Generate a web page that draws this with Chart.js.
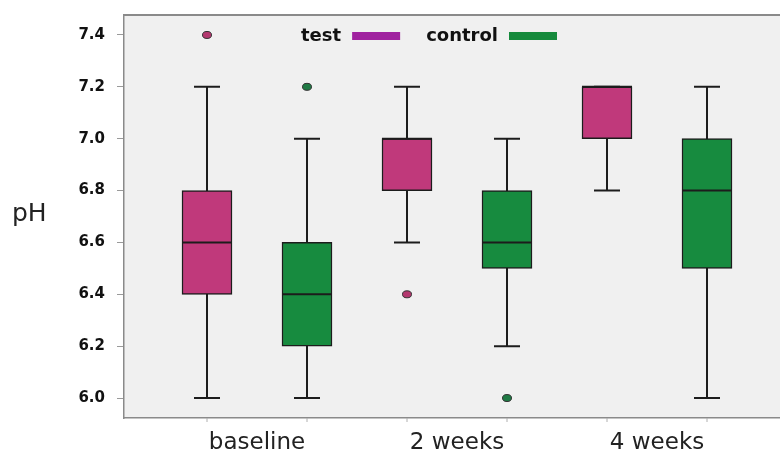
<!DOCTYPE html>
<html lang="en">
<head>
<meta charset="UTF-8">
<title>pH by time point</title>
<script src="https://cdn.jsdelivr.net/npm/chart.js"></script>
<style>body{margin:0;background:#fff}</style>
</head>
<body>
<canvas id="boxChart" width="780" height="453"></canvas>
<script>
const categories = ['baseline', '2 weeks', '4 weeks'];
const yTicks = [6.0, 6.2, 6.4, 6.6, 6.8, 7.0, 7.2, 7.4];

// five-number summaries, one entry per time point
const testMin = [6.0, 6.6, 6.8];
const testQ1 = [6.4, 6.8, 7.0];
const testMedian = [6.6, 7.0, 7.2];
const testQ3 = [6.8, 7.0, 7.2];
const testMax = [7.2, 7.2, 7.2];
const testOutliers = [[7.4], [6.4], []];

const controlMin = [6.0, 6.2, 6.0];
const controlQ1 = [6.2, 6.5, 6.5];
const controlMedian = [6.4, 6.6, 6.8];
const controlQ3 = [6.6, 6.8, 7.0];
const controlMax = [7.0, 7.0, 7.2];
const controlOutliers = [[7.2], [6.0], []];

function boxData(group, min, q1, med, q3, max, outl) {
    return categories.map((c, i) => ({
        x: i * 2 + group + 1,
        y: [q1[i], q3[i]],
        min: min[i], median: med[i], max: max[i], outliers: outl[i]
    }));
}

const lineColor = '#1c1c1c';

// whiskers under the boxes, medians/outliers on top, plus legend and bits of frame
const boxPlotPlugin = {
    id: 'boxPlot',
    beforeDraw(chart) {
        const {ctx, chartArea: a} = chart;
        ctx.save();
        ctx.fillStyle = '#f0f0f0';
        ctx.fillRect(a.left, a.top, a.right - a.left, a.bottom - a.top);
        ctx.strokeStyle = '#8a8a8a';
        ctx.lineWidth = 2;
        ctx.beginPath();
        ctx.moveTo(a.left, a.top);
        ctx.lineTo(a.right, a.top);
        ctx.stroke();
        ctx.restore();
    },
    beforeDatasetsDraw(chart) {
        const {ctx, scales: {y}} = chart;
        ctx.save();
        ctx.strokeStyle = lineColor;
        ctx.lineWidth = 2;
        chart.data.datasets.forEach((ds, d) => {
            chart.getDatasetMeta(d).data.forEach((bar, i) => {
                const item = ds.data[i];
                const yMin = y.getPixelForValue(item.min);
                const yMax = y.getPixelForValue(item.max);
                ctx.beginPath();
                ctx.moveTo(bar.x, yMin);
                ctx.lineTo(bar.x, yMax);
                ctx.moveTo(bar.x - 13, yMin);
                ctx.lineTo(bar.x + 13, yMin);
                ctx.moveTo(bar.x - 13, yMax);
                ctx.lineTo(bar.x + 13, yMax);
                ctx.stroke();
            });
        });
        ctx.restore();
    },
    afterDatasetsDraw(chart) {
        const {ctx, scales: {y}} = chart;
        ctx.save();
        chart.data.datasets.forEach((ds, d) => {
            chart.getDatasetMeta(d).data.forEach((bar, i) => {
                const item = ds.data[i];
                const ym = y.getPixelForValue(item.median);
                ctx.strokeStyle = lineColor;
                ctx.lineWidth = 2;
                ctx.beginPath();
                ctx.moveTo(bar.x - bar.width / 2, ym);
                ctx.lineTo(bar.x + bar.width / 2, ym);
                ctx.stroke();
                item.outliers.forEach(v => {
                    ctx.beginPath();
                    ctx.ellipse(bar.x, y.getPixelForValue(v), 4.5, 3.5, 0, 0, Math.PI * 2);
                    ctx.fillStyle = ds.outlierColor;
                    ctx.fill();
                    ctx.lineWidth = 1;
                    ctx.strokeStyle = '#333';
                    ctx.stroke();
                });
            });
        });
        ctx.restore();
    },
    afterDraw(chart) {
        const {ctx, chartArea: a, scales: {x}} = chart;
        ctx.save();
        // small tick marks under each box
        ctx.strokeStyle = '#b0b0b0';
        ctx.lineWidth = 1;
        chart.data.datasets.forEach((ds) => {
            ds.data.forEach(item => {
                const px = x.getPixelForValue(item.x);
                ctx.beginPath();
                ctx.moveTo(px, a.bottom);
                ctx.lineTo(px, a.bottom + 4);
                ctx.stroke();
            });
        });
        // axis title, horizontal
        ctx.fillStyle = '#222';
        ctx.font = '25px "DejaVu Sans"';
        ctx.textBaseline = 'middle';
        ctx.textAlign = 'left';
        ctx.fillText('pH', 12, (a.top + a.bottom) / 2 - 2);
        // legend: label then swatch
        ctx.font = 'bold 18px "DejaVu Sans"';
        let lx = a.left + 177;
        const ly = a.top + 21;
        chart.data.datasets.forEach(ds => {
            ctx.fillStyle = '#111';
            ctx.fillText(ds.label, lx, ly);
            lx += ctx.measureText(ds.label).width + 11;
            ctx.fillStyle = ds.legendColor;
            ctx.fillRect(lx, ly - 4, 48, 8);
            lx += 48 + 26;
        });
        ctx.restore();
    }
};

new Chart(document.getElementById('boxChart'), {
    type: 'bar',
    data: {
        datasets: [{
            label: 'test',
            data: boxData(0, testMin, testQ1, testMedian, testQ3, testMax, testOutliers),
            backgroundColor: '#c0397b',
            legendColor: '#a0229f',
            outlierColor: '#b3386f',
            borderColor: lineColor,
            borderWidth: 1.5,
            borderSkipped: false,
            barThickness: 50,
            grouped: false
        }, {
            label: 'control',
            data: boxData(1, controlMin, controlQ1, controlMedian, controlQ3, controlMax, controlOutliers),
            backgroundColor: '#178b3f',
            legendColor: '#168a3c',
            outlierColor: '#207a45',
            borderColor: lineColor,
            borderWidth: 1.5,
            borderSkipped: false,
            barThickness: 50,
            grouped: false
        }]
    },
    options: {
        responsive: false,
        animation: false,
        layout: {padding: {top: 15, left: 0, right: 0, bottom: 0}},
        scales: {
            x: {
                type: 'linear',
                offset: false,
                min: 0.17,
                max: 6.73,
                afterFit: s => { s.height = 35; s.paddingLeft = 0; s.paddingRight = 0; },
                afterBuildTicks: s => { s.ticks = categories.map((c, i) => ({value: i * 2 + 1.5})); },
                ticks: {
                    callback: (v, i) => categories[i],
                    font: {family: 'DejaVu Sans', size: 23},
                    color: '#222',
                    padding: 3,
                    maxRotation: 0
                },
                grid: {display: false, offset: false},
                border: {display: true, color: '#8a8a8a', width: 1.5}
            },
            y: {
                min: 5.923,
                max: 7.477,
                afterFit: s => { s.width = 124; s.paddingTop = 0; s.paddingBottom = 0; },
                afterBuildTicks: s => { s.ticks = yTicks.map(v => ({value: v})); },
                ticks: {
                    callback: v => v.toFixed(1),
                    font: {family: 'DejaVu Sans', size: 15, weight: 'bold'},
                    color: '#111',
                    padding: 12
                },
                grid: {drawOnChartArea: false, tickLength: 7, color: '#9a9a9a'},
                border: {display: true, color: '#8a8a8a', width: 1.5}
            }
        },
        plugins: {
            legend: {display: false},
            tooltip: {enabled: false}
        }
    },
    plugins: [boxPlotPlugin]
});
</script>
</body>
</html>
